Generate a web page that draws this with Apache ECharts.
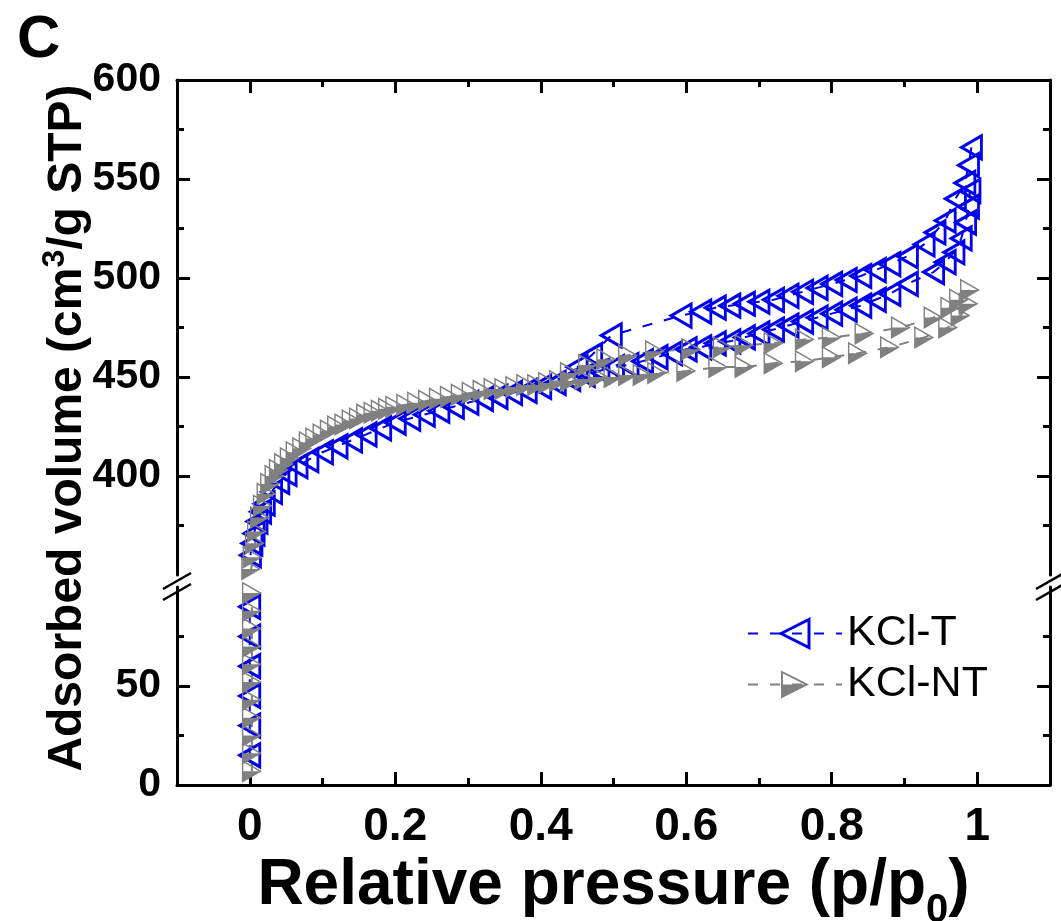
<!DOCTYPE html>
<html>
<head>
<meta charset="utf-8">
<title>Adsorption isotherm KCl-T / KCl-NT</title>
<script src="https://cdn.jsdelivr.net/npm/echarts@6/dist/echarts.min.js"></script>
<style>
  html, body { margin: 0; padding: 0; background: #fff; }
  #chart { width: 1061px; height: 921px; }
</style>
</head>
<body>
<div id="chart"></div>
<script>
  // tick positions
  var xMajor = [0, 0.2, 0.4, 0.6, 0.8, 1];
  var xMinor = [0.1, 0.3, 0.5, 0.7, 0.9];
  var yTopMajor = [400, 450, 500, 550, 600];
  var yTopMinor = [375, 425, 475, 525, 575];
  var yLowMajor = [0, 50];
  var yLowMinor = [25, 75];

  // KCl-T, [p/p0, cm3/g STP]
  var tLow = [[0, 15], [0, 30], [0, 45], [0, 60], [0, 75], [0, 90]];
  var tAds = [[0.001, 360], [0.003, 366], [0.006, 371], [0.01, 377], [0.015, 382], [0.02, 386],
    [0.03, 392], [0.04, 397], [0.05, 401], [0.065, 405], [0.08, 408], [0.1, 412], [0.12, 415],
    [0.14, 418], [0.16, 421], [0.18, 424], [0.2, 427], [0.22, 429], [0.24, 431], [0.26, 433],
    [0.28, 435], [0.3, 437], [0.32, 439], [0.34, 440], [0.36, 442], [0.38, 443], [0.4, 445],
    [0.42, 447], [0.44, 449], [0.46, 451], [0.48, 453], [0.5, 455], [0.52, 456], [0.54, 458],
    [0.56, 460], [0.58, 462], [0.6, 464], [0.62, 465], [0.64, 467], [0.66, 468], [0.68, 470],
    [0.7, 472], [0.72, 474], [0.74, 476], [0.76, 478], [0.78, 480], [0.8, 482], [0.82, 484],
    [0.84, 486], [0.86, 489], [0.88, 492], [0.904, 497], [0.94, 503], [0.956, 508], [0.968, 513],
    [0.978, 520], [0.984, 528], [0.988, 536], [0.99, 544]];
  var tDes = [[0.992, 566], [0.988, 557], [0.983, 548], [0.97, 540], [0.956, 529], [0.942, 523],
    [0.927, 517], [0.904, 511], [0.88, 507], [0.86, 504], [0.84, 501], [0.82, 499], [0.8, 497],
    [0.78, 495], [0.76, 493], [0.74, 491], [0.72, 489], [0.7, 488], [0.68, 487], [0.66, 486],
    [0.64, 485], [0.62, 483], [0.593, 481], [0.497, 471], [0.47, 461], [0.45, 455]];

  // KCl-NT
  var ntLow = [[0.003, 7], [0.003, 16], [0.003, 25], [0.003, 34], [0.003, 43], [0.003, 52],
    [0.003, 61], [0.003, 70], [0.003, 79], [0.003, 88], [0.003, 97]];
  var ntAds = [[0.002, 353], [0.004, 359], [0.007, 366], [0.01, 372], [0.014, 379], [0.018, 385],
    [0.023, 391], [0.028, 396], [0.034, 400], [0.04, 403], [0.047, 406], [0.055, 409], [0.063, 412],
    [0.072, 414], [0.081, 417], [0.09, 419], [0.1, 421], [0.11, 423], [0.12, 425], [0.13, 426],
    [0.14, 428], [0.15, 429], [0.16, 431], [0.17, 432], [0.18, 433], [0.19, 434], [0.2, 435],
    [0.215, 436], [0.23, 437], [0.245, 438], [0.26, 439], [0.275, 440], [0.29, 441], [0.305, 442],
    [0.32, 443], [0.335, 444], [0.35, 444], [0.365, 445], [0.38, 446], [0.395, 446], [0.41, 447],
    [0.425, 448], [0.44, 448], [0.46, 449], [0.48, 450], [0.5, 450], [0.52, 451], [0.54, 451],
    [0.56, 452], [0.6, 453], [0.644, 455], [0.68, 455], [0.72, 457], [0.763, 458], [0.8, 460],
    [0.836, 462], [0.88, 465], [0.927, 470], [0.96, 475], [0.977, 481], [0.988, 487]];
  var ntDes = [[0.99, 494], [0.975, 489], [0.963, 485], [0.94, 480], [0.895, 475], [0.845, 472],
    [0.8, 470], [0.763, 469], [0.72, 467], [0.68, 466], [0.65, 465], [0.607, 464], [0.557, 463],
    [0.52, 461], [0.49, 459], [0.465, 456], [0.44, 452]];

  var FONT = '"Liberation Sans", Arial, sans-serif';
  var BLUE = '#0000ee';
  var GREY = '#808080';
  var BLACK = { color: '#000', width: 3 };
  // plot frame, broken y axis: upper part 350-600, lower part 0-100
  var L = 177, W = 873, TOP = 80, TOP_H = 495, LOW = 587, LOW_H = 198;
  // right-pointing triangle, lower half filled, upper half outlined
  var HALF_TRI = 'path://M0,50L100,50L0,100Z M0,0L100,50L0,50Z M7,11L7,50L85,50Z';

  function fmt(v) { return String(Math.round(v * 10) / 10); }

  function tickAxis(grid, pos, min, max, ticks, len, labelSize, line) {
    var a = {
      type: 'value', gridIndex: grid, position: pos, min: min, max: max,
      axisLine: { show: line, onZero: false, lineStyle: BLACK },
      axisTick: { show: true, inside: true, length: len, customValues: ticks, lineStyle: BLACK },
      axisLabel: { show: false },
      splitLine: { show: false }
    };
    if (labelSize) {
      a.axisLabel = {
        show: true, customValues: ticks, margin: pos == 'bottom' ? 19 : 16, color: '#000',
        fontFamily: FONT, fontWeight: 'bold', fontSize: labelSize, formatter: fmt
      };
    }
    return a;
  }

  var xBottom = tickAxis(1, 'bottom', -0.1, 1.1, xMajor, 13, 46, true);
  xBottom.name = 'Relative pressure (p/p{sub|0})';
  xBottom.nameLocation = 'middle';
  xBottom.nameGap = 56;
  xBottom.nameTextStyle = {
    fontFamily: FONT, fontWeight: 'bold', fontSize: 64, color: '#000', lineHeight: 70,
    rich: { sub: { fontFamily: FONT, fontWeight: 'bold', fontSize: 40, lineHeight: 40,
      verticalAlign: 'top', padding: [40, 0, 0, 0] } }
  };

  function lineSeries(name, data, xi, yi, color, symbol, rotate, size, style) {
    return {
      name: name, type: 'line', data: data, xAxisIndex: xi, yAxisIndex: yi,
      symbol: symbol, symbolRotate: rotate, symbolSize: size,
      itemStyle: style,
      lineStyle: { color: color, width: 2, type: [10, 12] },
      z: 3
    };
  }
  var tStyle = { color: 'rgba(0,0,0,0)', borderColor: BLUE, borderWidth: 3 };
  var ntStyle = { color: GREY, borderWidth: 0 };

  function breakMark(x, y) {
    return { type: 'line', shape: { x1: x - 14, y1: y + 8, x2: x + 14, y2: y - 8 },
      style: { stroke: '#000', lineWidth: 2.5 } };
  }

  var chart = echarts.init(document.getElementById('chart'));
  chart.setOption({
    animation: false,
    backgroundColor: '#fff',
    grid: [
      { left: L, width: W, top: TOP, height: TOP_H, outerBoundsMode: 'none' },
      { left: L, width: W, top: LOW, height: LOW_H, outerBoundsMode: 'none' }
    ],
    xAxis: [
      tickAxis(0, 'top', -0.1, 1.1, xMajor, 13, 0, true),
      tickAxis(0, 'top', -0.1, 1.1, xMinor, 7, 0, false),
      xBottom,
      tickAxis(1, 'bottom', -0.1, 1.1, xMinor, 7, 0, false)
    ],
    yAxis: [
      tickAxis(0, 'left', 350, 600, yTopMajor, 13, 41, true),
      tickAxis(0, 'left', 350, 600, yTopMinor, 7, 0, false),
      tickAxis(0, 'right', 350, 600, yTopMajor, 13, 0, true),
      tickAxis(0, 'right', 350, 600, yTopMinor, 7, 0, false),
      tickAxis(1, 'left', 0, 100, yLowMajor, 13, 41, true),
      tickAxis(1, 'left', 0, 100, yLowMinor, 7, 0, false),
      tickAxis(1, 'right', 0, 100, yLowMajor, 13, 0, true),
      tickAxis(1, 'right', 0, 100, yLowMinor, 7, 0, false)
    ],
    legend: {
      orient: 'vertical', left: 742, top: 607, itemWidth: 94, itemHeight: 35, itemGap: 8,
      textStyle: { fontFamily: FONT, fontSize: 43, color: '#000' },
      data: [{ name: 'KCl-T', itemStyle: { borderWidth: 3 } }, { name: 'KCl-NT' }]
    },
    series: [
      lineSeries('KCl-T', tAds, 0, 0, BLUE, 'triangle', 90, [23, 20], tStyle),
      lineSeries('KCl-T', tDes, 0, 0, BLUE, 'triangle', 90, [23, 20], tStyle),
      lineSeries('KCl-T', tLow, 2, 4, BLUE, 'triangle', 90, [23, 20], tStyle),
      lineSeries('KCl-NT', ntAds, 0, 0, GREY, HALF_TRI, 0, [20, 23], ntStyle),
      lineSeries('KCl-NT', ntDes, 0, 0, GREY, HALF_TRI, 0, [20, 23], ntStyle),
      lineSeries('KCl-NT', ntLow, 2, 4, GREY, HALF_TRI, 0, [20, 23], ntStyle)
    ],
    graphic: [
      { type: 'text', left: 17, top: 10, style: { text: 'C', fontFamily: FONT, fontWeight: 'bold',
        fontSize: 60, fill: '#000' } },
      { type: 'text', x: 68, y: 428, rotation: Math.PI / 2,
        style: { text: 'Adsorbed volume (cm{sup|3}/g STP)', fontFamily: FONT, fontWeight: 'bold',
          fontSize: 48, lineHeight: 58, fill: '#000', align: 'center', verticalAlign: 'middle',
          rich: { sup: { fontFamily: FONT, fontWeight: 'bold', fontSize: 32, lineHeight: 32,
            verticalAlign: 'top', fill: '#000' } } } },
      breakMark(L, TOP + TOP_H + 6),
      breakMark(L, LOW + 5),
      breakMark(L + W, TOP + TOP_H + 6),
      breakMark(L + W, LOW + 5)
    ]
  });
</script>
</body>
</html>
